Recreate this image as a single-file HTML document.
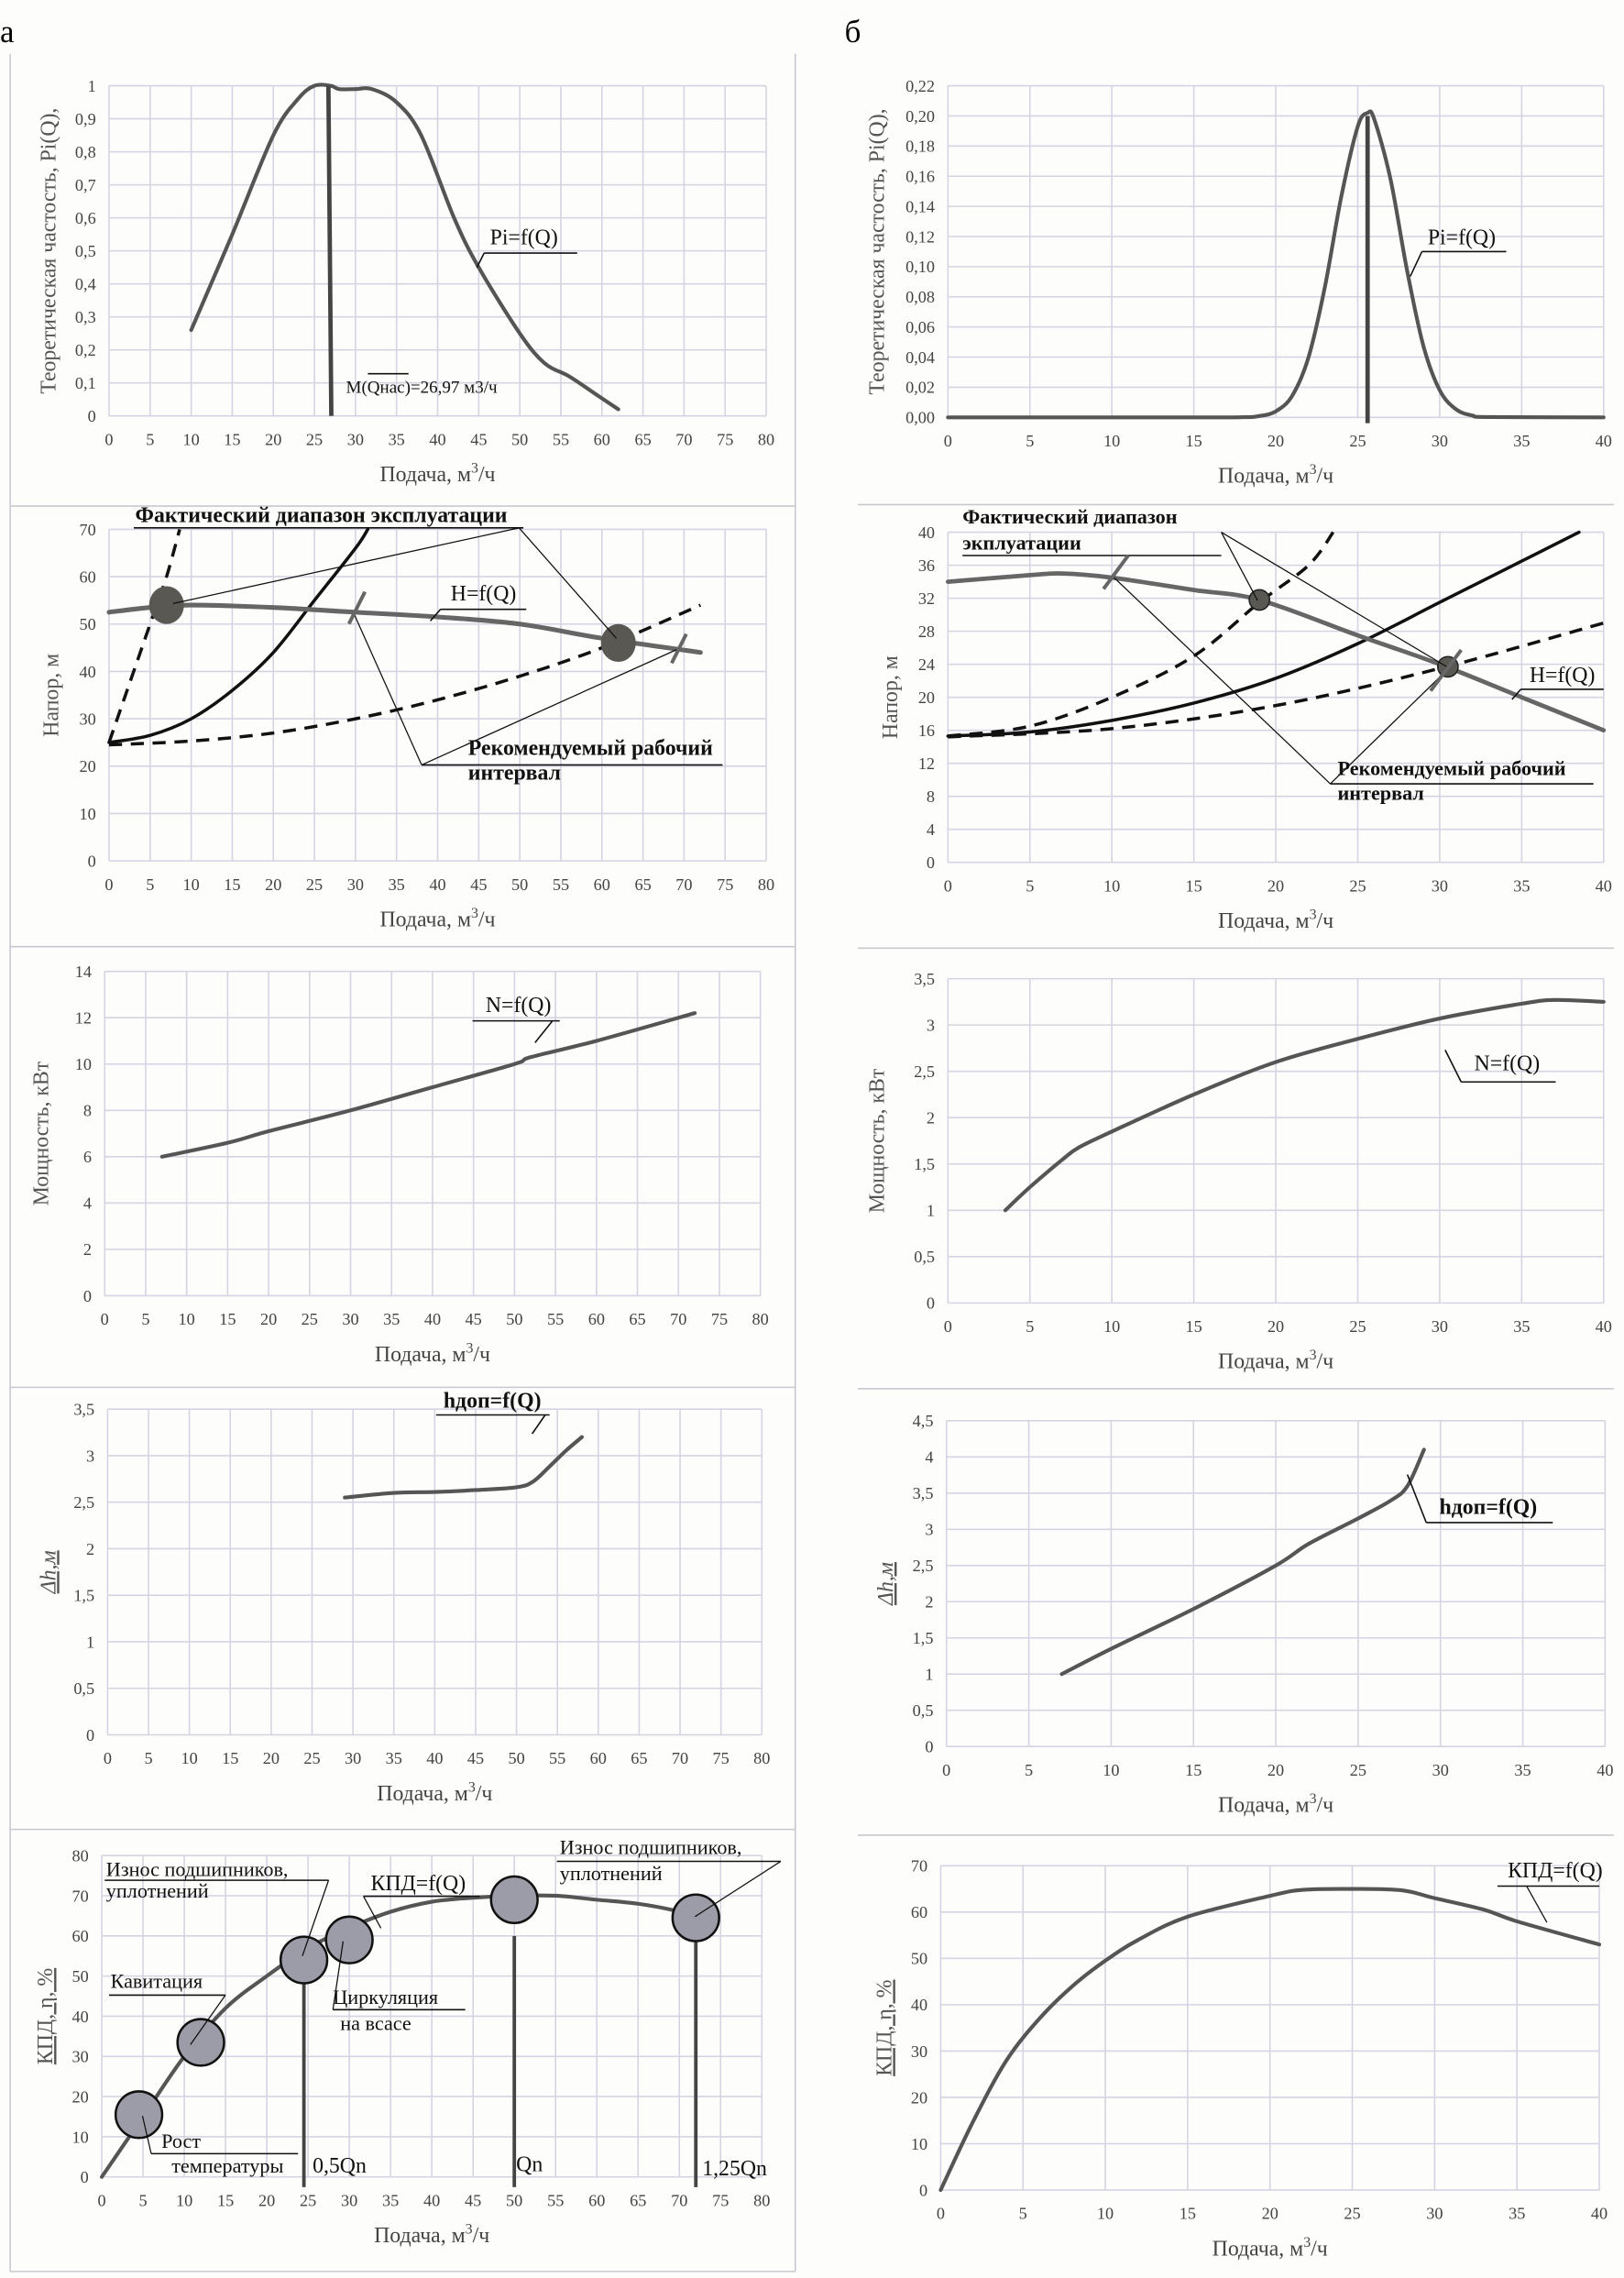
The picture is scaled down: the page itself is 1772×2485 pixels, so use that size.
<!DOCTYPE html>
<html><head><meta charset="utf-8"><style>
html,body{margin:0;padding:0;background:#fff;}
svg{display:block;font-family:"Liberation Serif","DejaVu Serif",serif;}
</style></head><body>
<svg id="root" width="1772" height="2485" viewBox="0 0 1117 1566.5" preserveAspectRatio="none" xmlns="http://www.w3.org/2000/svg">
<rect x="0" y="0" width="1117" height="1566.5" fill="#fdfdfc"/>
<text x="0" y="29" font-size="22">а</text>
<text x="581" y="29" font-size="22">б</text>
<g id="frames" stroke="#c8c8d0" stroke-width="1" fill="none">
<line x1="7" y1="37" x2="7" y2="1562"/><line x1="547" y1="37" x2="547" y2="1562"/>
<line x1="7" y1="348" x2="547" y2="348"/><line x1="7" y1="651" x2="547" y2="651"/>
<line x1="7" y1="954" x2="547" y2="954"/><line x1="7" y1="1258" x2="547" y2="1258"/>
<line x1="7" y1="1562" x2="547" y2="1562"/>
<line x1="590" y1="347" x2="1110" y2="347"/><line x1="590" y1="652" x2="1110" y2="652"/>
<line x1="590" y1="955" x2="1110" y2="955"/><line x1="590" y1="1262" x2="1110" y2="1262"/>
</g>
</svg>
<script>
// ---------- data ----------
const a1Q=[10,15,20,23,25,27,28,30,32,35,38,42,45,50,53,56,59,62];
const a1P=[0.26,0.55,0.85,0.96,1.0,1.0,0.99,0.99,0.99,0.95,0.85,0.6,0.45,0.25,0.16,0.12,0.07,0.02];
const a1Mean=[26.97];
const b1Q=[0,15,18,19,20,21,22,23,24,25,25.6,26,27,28,29,30,31,32,33,40];
const b1P=[0,0,0.0001,0.0009,0.004,0.0143,0.040,0.0868,0.1467,0.193,0.202,0.198,0.158,0.098,0.0476,0.018,0.0053,0.0012,0.0002,0];
const b1Mean=[25.6];
const a2Q_H=[0,5,10,20,30,40,50,60,72];
const a2H=[52.5,53.5,54,53.5,52.5,51.5,50,47,44];
const a2Q_sys=[0,5,10,15,20,25,30,31.5];
const a2Sys=[25,26.5,30,36,44,55,66,70];
const a2Q_steep=[0,2,5,7,8.6];
const a2Steep=[25,35,50,60,70];
const a2Q_low=[0,10,20,30,40,50,60,72];
const a2Low=[24.5,25.3,27,30,34,39,45,54];
const a2PtsQ=[7,62];
const a2PtsH=[54,46];
const b2Q_H=[0,5,7,10,15,19,25,30,35,40];
const b2H=[34,34.8,35,34.5,33,31.8,27.5,24,20,16];
const b2Q_sys=[0,5,10,15,20,25,30,35,38.5];
const b2Sys=[15.3,15.8,17.2,19.3,22.3,26.5,31.5,36.5,40];
const b2Q_steep=[0,5,10,15,19,22,23.5];
const b2Steep=[15.3,16.5,20,25,31.5,36,40];
const b2Q_low=[0,10,20,30,40];
const b2Low=[15.2,16.2,19,23.5,29];
const b2PtsQ=[19,30.5];
const b2PtsH=[31.8,23.7];
const a3Q=[7,15,20,30,40,50,52,60,72];
const a3N=[6,6.6,7.1,8,9,10,10.3,11,12.2];
const b3Q=[3.5,5,7,8,10,15,20,25,30,35,37,40];
const b3N=[1,1.25,1.55,1.68,1.85,2.25,2.6,2.85,3.07,3.23,3.27,3.25];
const a4Q=[29,35,40,45,50,52,54,56,58];
const a4h=[2.55,2.6,2.61,2.63,2.66,2.72,2.88,3.05,3.2];
const b4Q=[7,10,15,20,22,25,27,28,29];
const b4h=[1,1.35,1.9,2.5,2.8,3.15,3.4,3.6,4.1];
const a5Q=[0,5,10,15,20,25,30,35,40,45,50,55,60,65,70,72];
const a5E=[0,15,30,42,50,57,62,66,68.5,69.5,70,70,69,68,66,64];
const a5PtsQ=[4.5,12,24.5,30,50,72];
const a5PtsE=[15.5,33.5,54,59,69,64.5];
const a5VertQ=[24.5,50,72];
const b5Q=[0,2,4,6,8,10,12,15,20,22,25,28,30,33,35,40];
const b5E=[0,15,28,37,44,49.5,54,59,63.5,64.8,65,64.7,63,60.5,58,53];

// ---------- helpers ----------
const NS="http://www.w3.org/2000/svg";
const root=document.getElementById('root');
function mk(tag,attrs,parent){const e=document.createElementNS(NS,tag);for(const k in attrs)e.setAttribute(k,attrs[k]);(parent||root).appendChild(e);return e;}
function fmt(v,dec){return (dec===null?String(+v.toFixed(3)):v.toFixed(dec)).replace('.',',');}
function smooth(pts){
  if(pts.length<2)return '';
  let d='M'+pts[0][0]+','+pts[0][1];
  for(let i=0;i<pts.length-1;i++){
    const p0=pts[Math.max(0,i-1)],p1=pts[i],p2=pts[i+1],p3=pts[Math.min(pts.length-1,i+2)];
    const c1=[p1[0]+(p2[0]-p0[0])/6,p1[1]+(p2[1]-p0[1])/6];
    const c2=[p2[0]-(p3[0]-p1[0])/6,p2[1]-(p3[1]-p1[1])/6];
    d+=' C'+c1[0]+','+c1[1]+' '+c2[0]+','+c2[1]+' '+p2[0]+','+p2[1];
  }
  return d;
}
function chart(c){
  const g=mk('g',{});
  
  
  const sx=v=>c.xl+(v-0)/c.xmax*(c.xr-c.xl);
  const sy=v=>c.yb-(v-0)/c.ymax*(c.yb-c.yt);
  const nx=Math.round(c.xmax/c.xstep), ny=Math.round(c.ymax/c.ystep);
  for(let i=0;i<=nx;i++){
    const v=i*c.xstep,x=sx(v);
    const l=mk('line',{x1:x,x2:x,y1:c.yt,y2:c.yb,stroke:'#d4d4e2','stroke-width':1},g);
    
    
    const t=mk('text',{x:x,y:c.yb+20,'font-size':11.5,'text-anchor':'middle',fill:'#444'},g);
    
    
    t.textContent=fmt(v,null);
  }
  for(let i=0;i<=ny;i++){
    const v=i*c.ystep,y=sy(v);
    const l=mk('line',{x1:c.xl,x2:c.xr,y1:y,y2:y,stroke:'#d4d4e2','stroke-width':1},g);
    
    
    const t=mk('text',{x:c.xl-9,y:y+4,'font-size':11.5,'text-anchor':'end',fill:'#444'},g);
    
    
    t.textContent=fmt(v,c.ydec);
  }
  const xt=mk('text',{x:(c.xl+c.xr)/2,y:c.yb+45,'font-size':15,'text-anchor':'middle',fill:'#444'},g);
  
  
  xt.innerHTML='Подача, м<tspan dy="-6" font-size="10">3</tspan><tspan dy="6">/ч</tspan>';
  const yc=(c.yt+c.yb)/2;
  const yt=mk('text',{x:c.ytx,y:yc,'font-size':c.ytSize||15,'text-anchor':'middle',fill:'#555',transform:'rotate(-90 '+c.ytx+' '+yc+')','font-style':c.ytItalic?'italic':'normal','text-decoration':c.ytUnder?'underline':'none'},g);
  
  
  yt.textContent=c.ytitle;
  return {g,sx,sy};
}
function series(ch,xs,ys,name,style){
  const pts=xs.map((x,i)=>[ch.sx(x),ch.sy(ys[i])]);
  const p=mk('path',Object.assign({d:smooth(pts),fill:'none','stroke-linejoin':'round','stroke-linecap':'round'},style),ch.g);
  
  
  return p;
}
function txt(x,y,s,name,size,extra){
  const t=mk('text',Object.assign({x:x,y:y,'font-size':size||15,fill:'#111'},extra||{}));
  
  
  t.textContent=s;return t;
}
function ln(x1,y1,x2,y2,name,w,col){
  const l=mk('line',{x1,y1,x2,y2,stroke:col||'#111','stroke-width':w||1});
  
  
  return l;
}
const GRAY={stroke:'#555','stroke-width':2.6};
const BLACK={stroke:'#111','stroke-width':2.2};
const DASH={stroke:'#111','stroke-width':2.2,'stroke-dasharray':'9,6','stroke-linecap':'butt'};

// ---------- a1 ----------
let c=chart({name:'chart-a-frequency',xl:75,xr:527,xmax:80,xstep:5,yb:286,yt:59,ymax:1,ystep:0.1,ydec:null,ytx:38,ytitle:'Теоретическая частость, Pi(Q),'});
series(c,a1Q,a1P,'pi-curve-a',GRAY);
a1Mean.forEach(m=>{const l=mk('line',{x1:c.sx(m)-1.5,y1:c.sy(1),x2:c.sx(m)+0.5,y2:c.sy(0),stroke:'#444','stroke-width':3},c.g);

});
txt(337,168,'Pi=f(Q)','pi-label-a',15);ln(333,174,397,174,'pi-label-underline-a');ln(333,174,328,184,'pi-leader-a');
txt(238,270,'M(Qнас)=26,97 м3/ч','mean-label-a',12);ln(253,257,281,257,'mean-overline-a');

// ---------- b1 ----------
c=chart({name:'chart-b-frequency',xl:652,xr:1103,xmax:40,xstep:5,yb:287,yt:59,ymax:0.22,ystep:0.02,ydec:2,ytx:608,ytitle:'Теоретическая частость, Pi(Q),'});
series(c,b1Q,b1P,'pi-curve-b',GRAY);
b1Mean.forEach(m=>{const l=mk('line',{x1:c.sx(m),y1:c.sy(0.2),x2:c.sx(m),y2:c.sy(0)+4,stroke:'#444','stroke-width':3},c.g);

});
txt(982,168,'Pi=f(Q)','pi-label-b',15);ln(978,173,1036,173,'pi-label-underline-b');ln(978,173,970,190,'pi-leader-b');

// ---------- a2 ----------
c=chart({name:'chart-a-head',xl:75,xr:527,xmax:80,xstep:5,yb:592,yt:364,ymax:70,ystep:10,ydec:null,ytx:40,ytitle:'Напор, м'});
series(c,a2Q_low,a2Low,'system-curve-low-dashed-a',DASH);
series(c,a2Q_steep,a2Steep,'system-curve-steep-dashed-a',DASH);
series(c,a2Q_sys,a2Sys,'system-curve-a',BLACK);
series(c,a2Q_H,a2H,'head-curve-a',{stroke:'#666','stroke-width':3.2});
a2PtsQ.forEach((q,i)=>{const e=mk('ellipse',{cx:c.sx(q),cy:c.sy(a2PtsH[i]),rx:12,ry:13,fill:'#5a5853'},c.g);

});
txt(93,359,'Фактический диапазон эксплуатации','actual-range-label-a',15,{'font-weight':'bold'});
ln(92,363,360,363,'actual-range-underline-a');ln(357,363,119,415,'actual-range-leader-1-a',0.8);ln(357,363,424,439,'actual-range-leader-2-a',0.8);
txt(310,413,'H=f(Q)','head-label-a',15);ln(303,419,362,419,'head-underline-a');ln(303,419,296,427,'head-leader-a');
txt(322,519,'Рекомендуемый рабочий','recommended-label-a',15,{'font-weight':'bold'});txt(322,536,'интервал','recommended-label-2-a',15,{'font-weight':'bold'});
ln(290,526,497,526,'recommended-underline-a');ln(290,526,243,421,'recommended-leader-1-a',0.8);ln(290,526,467,446,'recommended-leader-2-a',0.8);
ln(240,429,251,407,'range-tick-1-a',2.5,'#666');ln(462,456,472,436,'range-tick-2-a',2.5,'#666');

// ---------- b2 ----------
c=chart({name:'chart-b-head',xl:652,xr:1103,xmax:40,xstep:5,yb:593,yt:366,ymax:40,ystep:4,ydec:null,ytx:617,ytitle:'Напор, м'});
series(c,b2Q_low,b2Low,'system-curve-low-dashed-b',DASH);
series(c,b2Q_steep,b2Steep,'system-curve-steep-dashed-b',DASH);
series(c,b2Q_sys,b2Sys,'system-curve-b',BLACK);
series(c,b2Q_H,b2H,'head-curve-b',{stroke:'#666','stroke-width':3});
b2PtsQ.forEach((q,i)=>{const e=mk('circle',{cx:c.sx(q),cy:c.sy(b2PtsH[i]),r:7,fill:'#5a5853',stroke:'#222','stroke-width':1},c.g);

});
txt(662,360,'Фактический диапазон','actual-range-label-b',14,{'font-weight':'bold'});txt(662,378,'экплуатации','actual-range-label-2-b',14,{'font-weight':'bold'});
ln(662,382,840,382,'actual-range-underline-b');ln(840,366,865,413,'actual-range-leader-1-b',0.8);ln(840,366,996,459,'actual-range-leader-2-b',0.8);
txt(1052,469,'H=f(Q)','head-label-b',15);ln(1046,474,1103,474,'head-underline-b');ln(1046,474,1040,481,'head-leader-b');
txt(920,533,'Рекомендуемый рабочий','recommended-label-b',14,{'font-weight':'bold'});txt(920,550,'интервал','recommended-label-2-b',14,{'font-weight':'bold'});
ln(915,539,1096,539,'recommended-underline-b');ln(915,539,765,396,'recommended-leader-1-b',0.8);ln(915,539,994,462,'recommended-leader-2-b',0.8);
ln(759,405,776,382,'range-tick-1-b',2.5,'#666');ln(984,475,1005,447,'range-tick-2-b',2.5,'#666');

// ---------- a3 ----------
c=chart({name:'chart-a-power',xl:72,xr:523,xmax:80,xstep:5,yb:891,yt:668,ymax:14,ystep:2,ydec:null,ytx:33,ytitle:'Мощность, кВт'});
series(c,a3Q,a3N,'power-curve-a',GRAY);
txt(334,696,'N=f(Q)','power-label-a',15);ln(325,702,385,702,'power-underline-a');ln(380,702,368,717,'power-leader-a');

// ---------- b3 ----------
c=chart({name:'chart-b-power',xl:652,xr:1103,xmax:40,xstep:5,yb:896,yt:673,ymax:3.5,ystep:0.5,ydec:null,ytx:608,ytitle:'Мощность, кВт'});
series(c,b3Q,b3N,'power-curve-b',GRAY);
txt(1014,736,'N=f(Q)','power-label-b',15);ln(1005,744,1070,744,'power-underline-b');ln(994,722,1005,744,'power-leader-b');

// ---------- a4 ----------
c=chart({name:'chart-a-npsh',xl:74,xr:524,xmax:80,xstep:5,yb:1193,yt:969,ymax:3.5,ystep:0.5,ydec:null,ytx:38,ytitle:'Δh,м',ytItalic:true,ytUnder:true});
series(c,a4Q,a4h,'npsh-curve-a',GRAY);
txt(305,968,'hдоп=f(Q)','npsh-label-a',15,{'font-weight':'bold'});ln(300,973,378,973,'npsh-underline-a');ln(375,973,366,986,'npsh-leader-a');

// ---------- b4 ----------
c=chart({name:'chart-b-npsh',xl:651,xr:1104,xmax:40,xstep:5,yb:1201,yt:977,ymax:4.5,ystep:0.5,ydec:null,ytx:614,ytitle:'Δh,м',ytItalic:true,ytUnder:true});
series(c,b4Q,b4h,'npsh-curve-b',GRAY);
txt(990,1041,'hдоп=f(Q)','npsh-label-b',15,{'font-weight':'bold'});ln(981,1047,1068,1047,'npsh-underline-b');ln(968,1014,981,1047,'npsh-leader-b');

// ---------- a5 ----------
c=chart({name:'chart-a-efficiency',xl:70,xr:524,xmax:80,xstep:5,yb:1497,yt:1276,ymax:80,ystep:10,ydec:null,ytx:36,ytitle:'КПД, η, %',ytUnder:true});
series(c,a5Q,a5E,'efficiency-curve-a',GRAY);
a5VertQ.forEach(q=>{const l=mk('line',{x1:c.sx(q),y1:c.sy(60),x2:c.sx(q),y2:c.sy(0)+7,stroke:'#444','stroke-width':2.4},c.g);

});
a5PtsQ.forEach((q,i)=>{const e=mk('ellipse',{cx:c.sx(q),cy:c.sy(a5PtsE[i]),rx:16,ry:16,fill:'#9c9ca8',stroke:'#111','stroke-width':1.6},c.g);

});
txt(73,1290,'Износ подшипников,','wear-label-1',14);txt(73,1305,'уплотнений','wear-label-1b',14);
ln(72,1293,226,1293,'wear-underline-1');ln(226,1293,208,1345,'wear-leader-1',0.8);
txt(255,1300,'КПД=f(Q)','efficiency-label-a',15);ln(250,1304,330,1304,'efficiency-underline-a');ln(250,1304,262,1326,'efficiency-leader-a',0.8);
txt(385,1275,'Износ подшипников,','wear-label-2',14);txt(385,1293,'уплотнений','wear-label-2b',14);
ln(383,1280,537,1280,'wear-underline-2');ln(537,1280,478,1318,'wear-leader-2',0.8);
txt(76,1367,'Кавитация','cavitation-label',14);ln(75,1372,155,1372,'cavitation-underline');ln(155,1372,131,1406,'cavitation-leader',0.8);
txt(229,1378,'Циркуляция','circulation-label',14);txt(234,1396,'на всасе','circulation-label-2',14);
ln(229,1382,320,1382,'circulation-underline');ln(229,1382,236,1335,'circulation-leader',0.8);
txt(111,1477,'Рост','temperature-label',14);txt(118,1494,'температуры','temperature-label-2',14);
ln(98,1455,104,1481,'temperature-leader',0.8);ln(104,1481,205,1481,'temperature-underline');
txt(215,1494,'0,5Qn','half-nominal-label',15);txt(355,1493,'Qn','nominal-label',15);txt(483,1496,'1,25Qn','overload-label',15);

// ---------- b5 ----------
c=chart({name:'chart-b-efficiency',xl:647,xr:1100,xmax:40,xstep:5,yb:1506,yt:1283,ymax:70,ystep:10,ydec:null,ytx:613,ytitle:'КПД, η, %',ytUnder:true});
series(c,b5Q,b5E,'efficiency-curve-b',GRAY);
txt(1037,1291,'КПД=f(Q)','efficiency-label-b',15);ln(1030,1297,1100,1297,'efficiency-underline-b');ln(1050,1297,1064,1322,'efficiency-leader-b',0.8);
</script>
</body></html>
